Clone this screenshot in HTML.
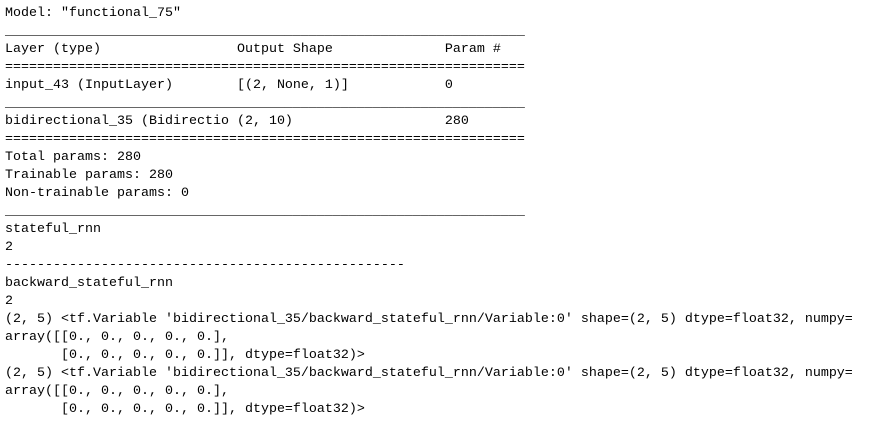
<!DOCTYPE html>
<html><head><meta charset="utf-8"><style>
html,body{margin:0;padding:0;background:#fff;width:873px;height:421px;overflow:hidden}
pre{margin:0;position:absolute;left:5px;top:5px;font-family:"Liberation Mono",monospace;font-size:13.33px;line-height:18px;color:#000}
</style></head><body><pre>Model: "functional_75"
_________________________________________________________________
Layer (type)                 Output Shape              Param #   
=================================================================
input_43 (InputLayer)        [(2, None, 1)]            0         
_________________________________________________________________
bidirectional_35 (Bidirectio (2, 10)                   280       
=================================================================
Total params: 280
Trainable params: 280
Non-trainable params: 0
_________________________________________________________________
stateful_rnn
2
--------------------------------------------------
backward_stateful_rnn
2
(2, 5) &lt;tf.Variable 'bidirectional_35/backward_stateful_rnn/Variable:0' shape=(2, 5) dtype=float32, numpy=
array([[0., 0., 0., 0., 0.],
       [0., 0., 0., 0., 0.]], dtype=float32)&gt;
(2, 5) &lt;tf.Variable 'bidirectional_35/backward_stateful_rnn/Variable:0' shape=(2, 5) dtype=float32, numpy=
array([[0., 0., 0., 0., 0.],
       [0., 0., 0., 0., 0.]], dtype=float32)&gt;</pre></body></html>
